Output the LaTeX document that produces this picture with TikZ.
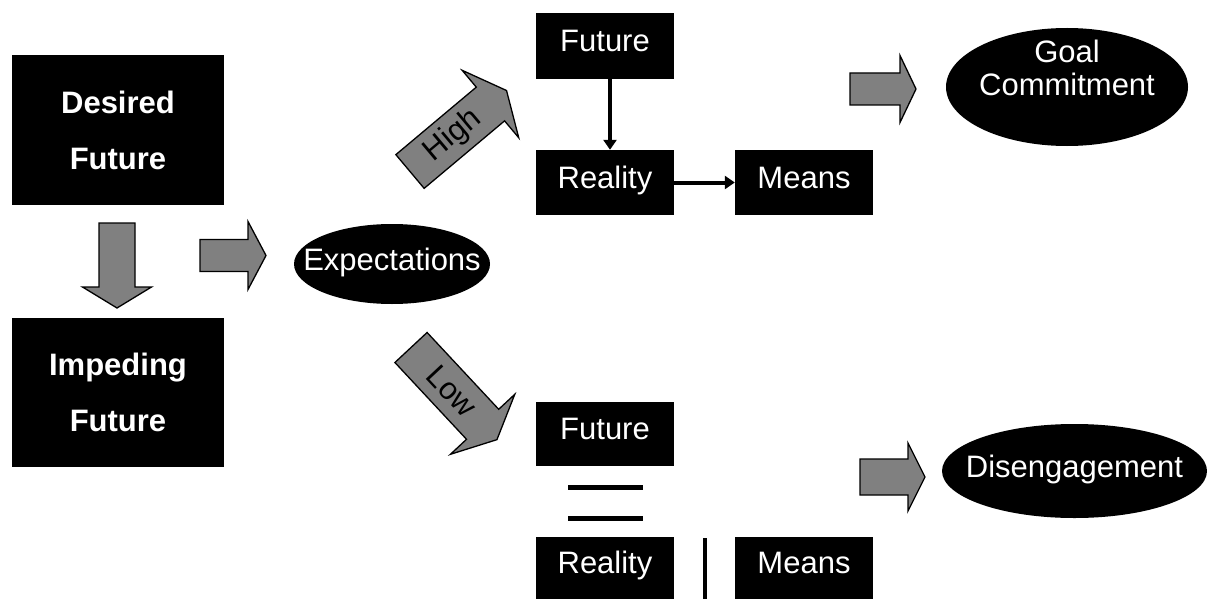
\documentclass[tikz,border=0pt]{standalone}
\usepackage{fontspec}
\setmainfont{Liberation Sans}
\usetikzlibrary{shapes.geometric,arrows.meta}
\newcommand\blkarrow[7]{%
  \begin{scope}[shift={(#1,#2)},rotate=#3]
    \draw[blk] (0,-#5) -- (#4,-#5) -- (#4,-#6) -- ({#4+#7},0) -- (#4,#6) -- (#4,#5) -- (0,#5) -- cycle;
  \end{scope}}
\begin{document}
\begin{tikzpicture}[x=1pt,y=-1pt,
  box/.style={rectangle,fill=black,text=white,inner sep=0pt,font=\fontsize{31}{36}\selectfont},
  bigbox/.style={box,minimum width=212pt,minimum height=150pt,align=center,font=\bfseries\fontsize{31}{56}\selectfont},
  smallbox/.style={box,minimum width=138pt,minimum height=65pt,text height=22pt,text depth=11pt},
  oval/.style={ellipse,fill=black,inner sep=0pt},
  ovaltxt/.style={text=white,inner sep=0pt,font=\fontsize{31}{36}\selectfont},
  onel/.style={text height=22pt,text depth=10pt},
  blk/.style={fill=black!50,draw=black,line width=1.3pt,line join=miter},
  arrtxt/.style={transform shape,text=black,inner sep=0pt,font=\fontsize{31}{36}\selectfont},
  conn/.style={line width=4pt,-{Triangle[width=13pt,length=10pt]}},
  bar/.style={line width=5pt}]
\useasboundingbox (0,0) rectangle (1217,599);

% nodes
\node[bigbox] (des) at (118,130) {Desired\\Future};
\node[bigbox,minimum height=149pt] (imp) at (118,392.5) {Impeding\\Future};
\node[oval,minimum width=196pt,minimum height=80pt] (exp) at (392,264) {};
\node[ovaltxt,onel] (exptxt) at (exp.center) {Expectations};
\node[smallbox,minimum height=66pt] (hf) at (605,46) {Future};
\node[smallbox] (hr) at (605,182.5) {Reality};
\node[smallbox] (hm) at (804,182.5) {Means};
\node[smallbox,minimum height=64pt] (lf) at (605,434) {Future};
\node[smallbox,minimum height=62pt] (lr) at (605,568) {Reality};
\node[smallbox,minimum height=62pt] (lm) at (804,568) {Means};
\node[oval,minimum width=242pt,minimum height=118pt] (goal) at (1067,87) {};
\node[ovaltxt,align=center,font=\fontsize{31}{33}\selectfont] (goaltxt) at (1067,68) {Goal\\Commitment};
\node[oval,minimum width=265pt,minimum height=94pt] (dis) at (1074.5,471) {};
\node[ovaltxt,onel] (distxt) at (dis.center) {Disengagement};

% connectors
\draw[conn] ([xshift=5pt]hf.south) -- ([xshift=5pt]hr.north);
\draw[conn] (hr.east) -- (hm.west);

% equals sign and bar
\draw[bar] (568,487) -- (643,487);
\draw[bar] (568,518) -- (643,518);
\draw[line width=4pt] (705,538) -- (705,599);

% block arrows
\blkarrow{117}{223}{-90}{64}{18}{34.5}{21}
\blkarrow{200}{255.5}{0}{48}{16}{34}{18}
\blkarrow{850}{89}{0}{50}{16}{33.5}{16}
\blkarrow{860}{477}{0}{48}{18}{34}{17}

\begin{scope}[shift={(410,171.5)},rotate=40]
  \draw[blk] (0,-22) -- (105,-22) -- (105,-44) -- (126,0) -- (105,44) -- (105,22) -- (0,22) -- cycle;
  \node[arrtxt] (high) at (56,0) {High};
\end{scope}
\begin{scope}[shift={(411,347.5)},rotate=-47]
  \draw[blk] (0,-22) -- (105,-22) -- (105,-44) -- (126,0) -- (105,44) -- (105,22) -- (0,22) -- cycle;
  \node[arrtxt] (low) at (60,0) {Low};
\end{scope}
\end{tikzpicture}
\end{document}
